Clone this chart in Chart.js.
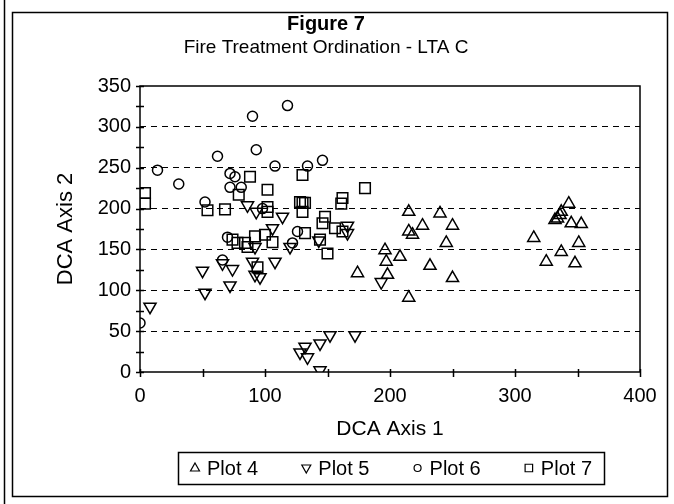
<!DOCTYPE html>
<html>
<head>
<meta charset="utf-8">
<script src="https://cdn.jsdelivr.net/npm/chart.js@4.4.0/dist/chart.umd.min.js"></script>
<style>
  body { margin: 0; background: #fff; }
  canvas { display: block; }
</style>
</head>
<body>
<canvas id="ordenacao" width="674" height="504"></canvas>
<script>
  // Valores: [DCA Axis 1, DCA Axis 2]
  const plot4 = [[215,196],[240,194],[226,179],[250,179],[218,168],[215,172],[245,158],[196,149],[208,141],
    [197,135],[232,130],[198,119],[250,115],[215,91],[174,121],[343,206],[337,196],[334,188],[332,186],
    [336,192],[345,182],[353,181],[315,164],[351,158],[337,147],[325,135],[348,133]];
  const plot5 = [[8,80],[50,124],[52,97],[66,133],[74,126],[72,106],[90,135],[92,119],[86,204],[93,196],
    [114,190],[106,176],[92,153],[108,135],[96,116],[120,153],[143,161],[166,179],[166,170],[152,45],
    [172,45],[144,35],[132,31],[128,24],[134,18],[144,2],[193,110]];
  const plot6 = [[0,60],[14,247],[31,230],[62,264],[52,208],[72,243],[76,239],[72,226],[81,226],[90,313],
    [118,326],[93,272],[108,252],[146,259],[98,200],[126,172],[122,158],[70,165],[66,137],[134,252]];
  const plot7 = [[4,219],[4,206],[88,239],[79,217],[54,198],[68,199],[130,241],[102,223],[128,208],[162,213],
    [161,206],[180,225],[102,202],[102,196],[130,207],[132,207],[130,196],[148,190],[146,182],[156,176],
    [162,172],[132,170],[144,162],[150,145],[100,168],[92,166],[106,159],[78,158],[84,158],[86,153],
    [94,128],[74,162]];

  const nomes = ['Plot 4', 'Plot 5', 'Plot 6', 'Plot 7'];
  const xTicks = [0, 100, 200, 300, 400];
  const yTicks = [0, 50, 100, 150, 200, 250, 300, 350];

  const fonte = '"Liberation Sans", Arial, sans-serif';

  const estilos = [
    { pointStyle: 'triangle', rotation: 0, radius: 7 },
    { pointStyle: 'triangle', rotation: 180, radius: 7 },
    { pointStyle: 'circle', rotation: 0, radius: 5 },
    { pointStyle: 'rect', rotation: 0, radius: 7.5 }
  ];

  const series = [plot4, plot5, plot6, plot7];

  function desenhaSimbolo(ctx, tipo, x, y, r) {
    ctx.beginPath();
    if (tipo === 0) {
      ctx.moveTo(x, y - r); ctx.lineTo(x + r * 0.9, y + r * 0.6); ctx.lineTo(x - r * 0.9, y + r * 0.6); ctx.closePath();
    } else if (tipo === 1) {
      ctx.moveTo(x, y + r); ctx.lineTo(x + r * 0.9, y - r * 0.6); ctx.lineTo(x - r * 0.9, y - r * 0.6); ctx.closePath();
    } else if (tipo === 2) {
      ctx.arc(x, y, r * 0.7, 0, Math.PI * 2);
    } else {
      ctx.rect(x - r * 0.75, y - r * 0.75, r * 1.5, r * 1.5);
    }
    ctx.stroke();
  }

  // moldura, marcas dos eixos e legenda
  const moldura = {
    id: 'moldura',
    beforeDraw(chart) {
      const ctx = chart.ctx;
      ctx.save();
      ctx.fillStyle = '#fff';
      ctx.fillRect(0, 0, chart.width, chart.height);
      ctx.strokeStyle = '#000';
      ctx.lineWidth = 1.5;
      ctx.strokeRect(12.5, 12.5, 655, 484);
      ctx.beginPath();
      ctx.moveTo(4.5, 0); ctx.lineTo(4.5, 504);
      ctx.stroke();
      ctx.restore();
    },
    afterDraw(chart) {
      const ctx = chart.ctx;
      const a = chart.chartArea;
      const sx = chart.scales.x, sy = chart.scales.y;
      ctx.save();
      ctx.strokeStyle = '#000';
      ctx.lineWidth = 1.5;
      ctx.strokeRect(a.left, a.top, a.right - a.left, a.bottom - a.top);

      ctx.lineWidth = 1.5;
      ctx.beginPath();
      for (let v = 0; v <= 350; v += 25) {
        const py = Math.round(sy.getPixelForValue(v)) + 0.5;
        ctx.moveTo(a.left - 4, py); ctx.lineTo(a.left + 4, py);
      }
      for (let v = 0; v <= 400; v += 50) {
        const px = Math.round(sx.getPixelForValue(v)) + 0.5;
        ctx.moveTo(px, a.bottom - 3); ctx.lineTo(px, a.bottom + 5);
      }
      ctx.stroke();

      // legenda com caixa
      ctx.font = '20px ' + fonte;
      ctx.fillStyle = '#000';
      ctx.textBaseline = 'middle';
      const caixa = { left: 178, right: 604, top: 452, bottom: 484 };
      const larguras = nomes.map(n => 10 + 7 + ctx.measureText(n).width);
      const total = larguras.reduce((s, w) => s + w, 0);
      const folga = (caixa.right - caixa.left - 24 - total) / (nomes.length - 1);
      let x = caixa.left + 12;
      const yc = (caixa.top + caixa.bottom) / 2;
      ctx.lineWidth = 1.2;
      nomes.forEach((n, i) => {
        desenhaSimbolo(ctx, i, x + 5, yc, 5);
        ctx.fillText(n, x + 17, yc + 1);
        x += larguras[i] + folga;
      });
      ctx.lineWidth = 1.5;
      ctx.strokeRect(caixa.left + 0.5, caixa.top + 0.5, caixa.right - caixa.left, caixa.bottom - caixa.top);
      ctx.restore();
    }
  };

  new Chart(document.getElementById('ordenacao'), {
    type: 'scatter',
    data: {
      datasets: series.map((s, i) => ({
        label: nomes[i],
        data: s.map(p => ({ x: p[0], y: p[1] })),
        pointStyle: estilos[i].pointStyle,
        rotation: estilos[i].rotation,
        pointRadius: estilos[i].radius,
        pointBackgroundColor: 'rgba(255,255,255,0)',
        pointBorderColor: '#000',
        pointBorderWidth: 1.5
      }))
    },
    options: {
      responsive: false,
      animation: false,
      devicePixelRatio: 1,
      layout: { padding: { left: 12, right: 34, top: 12, bottom: 62 } },
      plugins: {
        legend: { display: false },
        tooltip: { enabled: false },
        title: {
          display: true,
          text: 'Figure 7',
          color: '#000',
          font: { family: fonte, size: 20, weight: 'bold', lineHeight: 1.2 },
          padding: 0
        },
        subtitle: {
          display: true,
          text: 'Fire Treatment Ordination - LTA C',
          color: '#000',
          font: { family: fonte, size: 19, lineHeight: 1.2 },
          padding: { top: 0, bottom: 27.2 }
        }
      },
      scales: {
        x: {
          type: 'linear',
          min: 0,
          max: 400,
          afterFit: s => { s.height = 70; },
          afterBuildTicks: s => { s.ticks = [0, 50, 100, 150, 200, 250, 300, 350, 400].map(v => ({ value: v })); },
          ticks: {
            autoSkip: false,
            maxRotation: 0,
            padding: 12,
            color: '#000',
            font: { family: fonte, size: 20 },
            callback: v => xTicks.includes(v) ? v : ''
          },
          grid: { display: false, drawTicks: false },
          border: { display: false },
          title: {
            display: true,
            text: 'DCA Axis 1',
            color: '#000',
            font: { family: fonte, size: 21, lineHeight: 1.2 },
            padding: { top: 0, bottom: 0 }
          }
        },
        y: {
          min: 0,
          max: 350,
          afterFit: s => { s.width = 128; },
          ticks: {
            stepSize: 25,
            autoSkip: false,
            padding: 9,
            color: '#000',
            font: { family: fonte, size: 20 },
            callback: v => yTicks.includes(v) ? v : ''
          },
          grid: {
            drawTicks: false,
            lineWidth: 1,
            color: c => (c.tick && c.tick.value % 50 === 0 && c.tick.value > 0 && c.tick.value < 350) ? '#000' : 'rgba(0,0,0,0)'
          },
          border: { display: false, dash: [6, 5] },
          title: {
            display: true,
            text: 'DCA Axis 2',
            color: '#000',
            font: { family: fonte, size: 22, lineHeight: 1.2 },
            padding: { top: 41, bottom: 0 }
          }
        }
      }
    },
    plugins: [moldura]
  });
</script>
</body>
</html>
